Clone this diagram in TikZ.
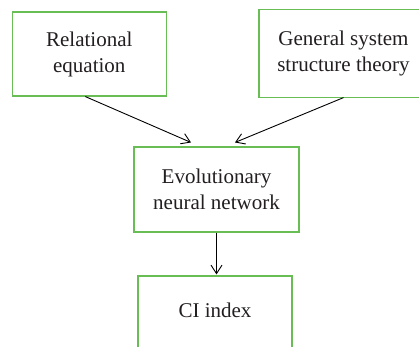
\documentclass[tikz,border=0pt]{standalone}
\usepackage{fontspec}
\setmainfont{Liberation Serif}
\usetikzlibrary{arrows.meta}
\definecolor{boxgreen}{RGB}{104,189,85}
\definecolor{textgray}{RGB}{35,31,32}

\begin{document}
\begin{tikzpicture}[x=1pt,y=1pt,yscale=-1,xscale=1,
  stagebox/.style={draw=boxgreen,line width=1.1pt,fill=white,align=center,
    text=textgray,font=\fontsize{21}{26}\selectfont,inner sep=0pt},
  flow/.style={draw=black,line width=0.9pt,-{Straight Barb[length=8.5pt,width=11pt]}}]
\useasboundingbox (0,0) rectangle (419,346);
\clip (0,0) rectangle (419,346);

% Text Node
\node [stagebox,minimum width=153.5pt,minimum height=84pt] (rel) at (89.3,54) {Relational\\equation};
% Text Node
\node [stagebox,minimum width=169pt,minimum height=87.5pt] (gst) at (343.5,53.3) {General system\\structure theory};
% Text Node
\node [stagebox,minimum width=165pt,minimum height=85pt] (enn) at (216.5,189.5) {Evolutionary\\neural network};
% Text Node
\node [stagebox,minimum width=154pt,minimum height=88pt,text height=14pt,text depth=20pt] (ci) at (215,320) {CI index};

% Connection
\draw [flow] ([xshift=-4pt]rel.south) -- ([xshift=-25.5pt,yshift=-4pt]enn.north);
% Connection
\draw [flow] (gst.south) -- ([xshift=18.5pt,yshift=-4pt]enn.north);
% Connection
\draw [flow] (enn.south) -- ([xshift=1.5pt,yshift=-1pt]ci.north);

\end{tikzpicture}
\end{document}
